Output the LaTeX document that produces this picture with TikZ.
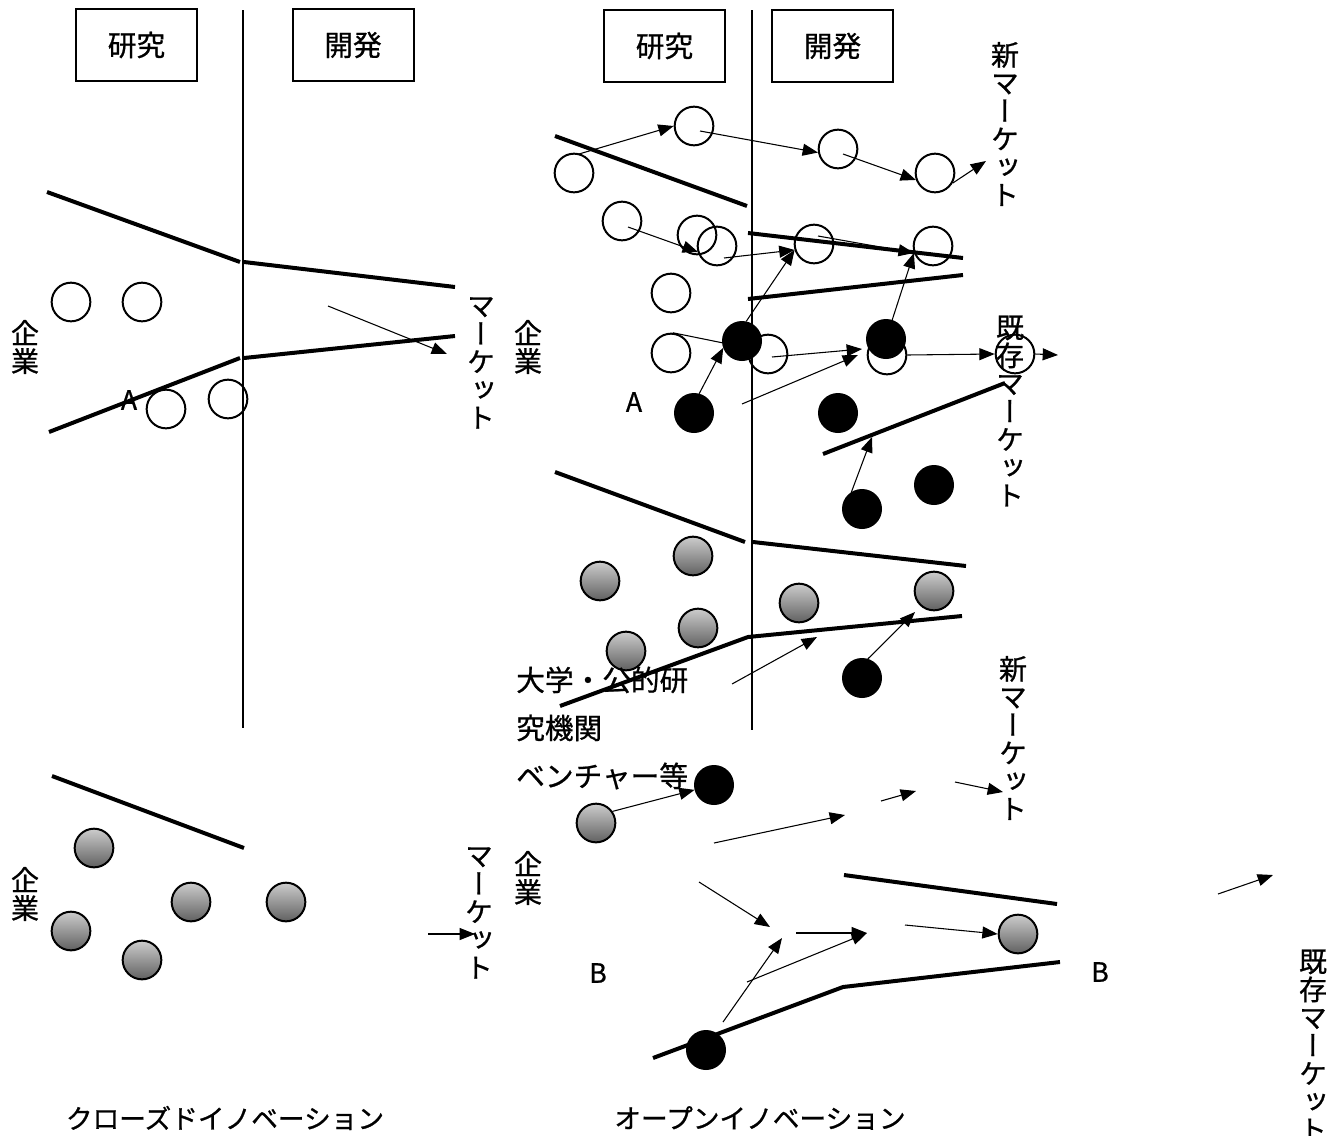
\documentclass[tikz,border=0pt]{standalone}
\usepackage{fontspec}
\newfontfamily\jp[RawFeature={embolden=0.8}]{Noto Sans CJK JP}
\newfontfamily\jpv[RawFeature={+vert;embolden=0.8}]{Noto Sans CJK JP}
\usetikzlibrary{arrows.meta}
\begin{document}
\begin{tikzpicture}[x=0.75pt,y=-0.75pt,
  wc/.style={circle,draw,line width=1.5pt,minimum size=29pt,inner sep=0pt},
  bc/.style={circle,fill=black,draw=black,line width=1pt,minimum size=29pt,inner sep=0pt},
  gc/.style={circle,draw,line width=1.5pt,minimum size=29pt,inner sep=0pt,top color=black!20,bottom color=black!62},
  thk/.style={line width=3pt},
  arr/.style={line width=0.8pt,-{Triangle[length=11.5pt,width=9pt]}},
  lbl/.style={font=\jp\fontsize{20}{25}\selectfont,inner sep=0pt},
  vt/.style={font=\jpv\fontsize{21}{21}\selectfont,align=center,inner sep=0pt},
  hbox/.style={draw,line width=1.5pt,minimum width=90.75pt,minimum height=54pt,inner sep=0pt,font=\jp\fontsize{21.5}{25}\selectfont},
  div/.style={line width=1pt}]
\useasboundingbox[fill=white] (0,0) rectangle (1337,1135);

% ---------------- left: closed innovation ----------------
\node[hbox] (kL) at (136.5,45) {研究};
\node[hbox] (hL) at (353,45) {開発};
\coordinate (dLt) at (243,10);
\coordinate (dLb) at (243,728);
\draw[div] (dLt) -- (dLb);

\draw[thk] (47,192) -- (240,262);
\draw[thk] (244,262) -- (455,287);
\draw[thk] (49,432) -- (240,358);
\draw[thk] (244,358) -- (455,336);
\draw[thk] (52,776) -- (244,848);

\node[wc] (lw1) at (71,302) {};
\node[wc] (lw2) at (142,302) {};
\node[wc] (lw3) at (166,409) {};
\node[wc] (lw4) at (228,399) {};
\node[lbl] (lA) at (129,400) {A};

\node[gc] (lg1) at (94,848) {};
\node[gc] (lg2) at (71,931) {};
\node[gc] (lg3) at (191,902) {};
\node[gc] (lg4) at (142,960) {};
\node[gc] (lg5) at (286,902) {};

\node[vt] (lc1) at (25,347) {企\\業};
\node[vt] (lc2) at (25,894) {企\\業};
\node[vt] (lm1) at (481,363) {マ\\ー\\ケ\\ッ\\ト};
\node[vt] (lm2) at (479,913) {マ\\ー\\ケ\\ッ\\ト};

\coordinate (la1s) at (328,306);
\coordinate (la1e) at (447,354);
\draw[arr] (la1s) -- (la1e);
\coordinate (la2s) at (428,934);
\coordinate (la2e) at (475,934);
\draw[arr] (la2s) -- (la2e);

\node[lbl] (tC) at (225,1118) {クローズドイノベーション};

% ---------------- right: open innovation ----------------
\node[hbox] (kR) at (664.5,46) {研究};
\node[hbox] (hR) at (832.5,46) {開発};
\coordinate (dRt) at (752,10);
\coordinate (dRb) at (752,730);
\draw[div] (dRt) -- (dRb);

\draw[thk] (555,136) -- (747,206);
\draw[thk] (748,233) -- (963,258);
\draw[thk] (748,299) -- (963,275);
\draw[thk] (823,454) -- (1005,383);
\draw[thk] (555,472) -- (745,542);
\draw[thk] (753,542) -- (966,566);
\draw[thk] (560,706) -- (748,637) -- (962,616);
\draw[thk] (844,875) -- (1057,904);
\draw[thk] (653,1058) -- (843,987) -- (1060,962);

% white circles
\node[wc] (W1) at (574,173) {};
\node[wc] (W2) at (694,126) {};
\node[wc] (W3) at (838,149) {};
\node[wc] (W4) at (935,173) {};
\node[wc] (W5) at (622,221) {};
\node[wc] (W6) at (697,235) {};
\node[wc] (W7) at (717,246) {};
\node[wc] (W8) at (814,244) {};
\node[wc] (W9) at (933,246) {};
\node[wc] (W10) at (671,293) {};
\node[wc] (W11) at (671,353) {};
\node[wc] (W12) at (768,354) {};
\node[wc] (W13) at (887,355) {};
\node[wc] (W14) at (1015,354) {};

% black circles
\node[bc] (B1) at (742,341) {};
\node[bc] (B2) at (886,339) {};
\node[bc] (B3) at (694,413) {};
\node[bc] (B4) at (838,413) {};
\node[bc] (B5) at (862,509) {};
\node[bc] (B6) at (934,485) {};
\node[bc] (B7) at (862,678) {};
\node[bc] (B8) at (714,785) {};
\node[bc] (B9) at (706,1050) {};

% gray circles
\node[gc] (G1) at (693,556) {};
\node[gc] (G2) at (600,581) {};
\node[gc] (G3) at (698,628) {};
\node[gc] (G4) at (626,651) {};
\node[gc] (G5) at (799,603) {};
\node[gc] (G6) at (934,591) {};
\node[gc] (G7) at (596,823) {};
\node[gc] (G8) at (1018,934) {};

% labels
\node[vt] (rc1) at (528,347) {企\\業};
\node[vt] (rc2) at (528,878) {企\\業};
\node[vt] (nm1) at (1005,124) {新\\マ\\ー\\ケ\\ッ\\ト};
\node[vt] (em1) at (1010,411) {既\\存\\マ\\ー\\ケ\\ッ\\ト};
\node[vt] (nm2) at (1013,738) {新\\マ\\ー\\ケ\\ッ\\ト};
\node[vt] (em2) at (1313,1045) {既\\存\\マ\\ー\\ケ\\ッ\\ト};
\node[lbl] (rA) at (634,402) {A};
\node[lbl] (rB1) at (598,973) {B};
\node[lbl] (rB2) at (1100,972) {B};
\node[lbl,align=left,anchor=west,font=\jp\fontsize{21.5}{36}\selectfont] (univ) at (516,728) {大学・公的研\\究機関\\ベンチャー等};
\node[lbl] (tO) at (760,1118) {オープンイノベーション};

% free ends
\coordinate (a1s) at (579,154);
\coordinate (a2s) at (700,131);
\coordinate (a3s) at (843,154);
\coordinate (a4e) at (986,161);
\coordinate (a5s) at (628,227);
\coordinate (a5e) at (698,252);
\coordinate (a6s) at (724,258);
\coordinate (a7s) at (818,236);
\coordinate (a12s) at (772,357);
\coordinate (a12e) at (862,349);
\coordinate (a13s) at (742,404);
\coordinate (a13e) at (858,355);
\coordinate (a15e) at (1058,355);
\coordinate (a16e) at (872,437);
\coordinate (a17s) at (732,684);
\coordinate (a17e) at (817,637);
\coordinate (a18e) at (915,612);
\coordinate (a19s) at (714,843);
\coordinate (a19e) at (845,815);
\coordinate (a20s) at (881,801);
\coordinate (a20e) at (916,791);
\coordinate (a21s) at (955,782);
\coordinate (a21e) at (1003,792);
\coordinate (a22s) at (699,882);
\coordinate (a22e) at (770,927);
\coordinate (a23s) at (796,933);
\coordinate (a23e) at (867,933);
\coordinate (a24s) at (723,1022);
\coordinate (a24e) at (782,938);
\coordinate (a25s) at (747,982);
\coordinate (a26s) at (905,925);
\coordinate (a28s) at (1218,894);
\coordinate (a28e) at (1273,875);

% connectors
\draw[arr] (a1s) -- (W2.west);
\draw[arr] (a2s) -- (W3.190);
\draw[arr] (a3s) -- (W4.200);
\draw[arr] (W4.-30) -- (a4e);
\draw[arr] (a5s) -- (a5e);
\draw[arr] (a6s) -- (W8.197);
\draw[arr] (a7s) -- (W9.200);
\draw[arr] (B1.78) -- (W8.197);
\draw[arr] (B2.72) -- (W9.200);
\draw[line width=0.8pt] (W11.85) -- (B1.185);
\draw[arr] (B3.75) -- (B1.200);
\draw[arr] (a12s) -- (a12e);
\draw[arr] (a13s) -- (a13e);
\draw[arr] (W13.east) -- (W14.west);
\draw[arr] (W14.east) -- (a15e);
\draw[arr] (B5.122) -- (a16e);
\draw[arr] (a17s) -- (a17e);
\draw[arr] (B7.73) -- (a18e);
\draw[arr] (G7.35) -- (B8.194);
\draw[arr] (a19s) -- (a19e);
\draw[arr] (a20s) -- (a20e);
\draw[arr] (a21s) -- (a21e);
\draw[arr] (a22s) -- (a22e);
\draw[arr] (a23s) -- (a23e);
\draw[arr] (a24s) -- (a24e);
\draw[arr] (a25s) -- (a23e);
\draw[arr] (a26s) -- (G8.west);
\draw[arr] (a28s) -- (a28e);
\end{tikzpicture}
\end{document}
